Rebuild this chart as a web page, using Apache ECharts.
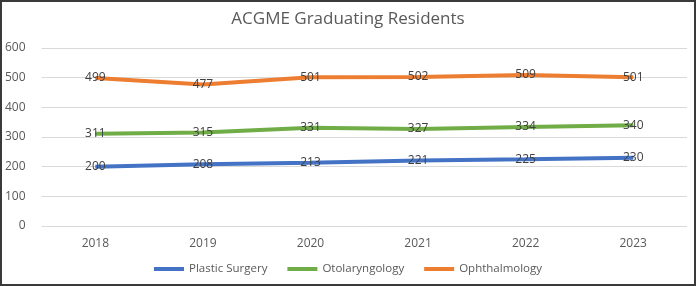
<!DOCTYPE html>
<html>
<head>
<meta charset="utf-8">
<script src="https://cdn.jsdelivr.net/npm/echarts@6/dist/echarts.min.js"></script>
<style>
  html, body { margin: 0; padding: 0; background: #fff; }
  #chart {
    width: 696px;
    height: 286px;
    box-sizing: border-box;
    border: 2px solid #3a3a3a;
  }
</style>
</head>
<body>
<div id="chart"></div>
<script>
// chart data
const years = ['2018', '2019', '2020', '2021', '2022', '2023']
const plasticSurgery = [200, 208, 213, 221, 225, 230]
const otolaryngology = [311, 315, 331, 327, 334, 340]
const ophthalmology = [499, 477, 501, 502, 509, 501]

const chart = echarts.init(document.getElementById('chart'))

const makeSeries = (name, data, color) => ({
  name: name,
  type: 'line',
  data: data,
  symbol: 'circle',
  symbolSize: 1,
  lineStyle: { width: 4, color: color },
  itemStyle: { color: color },
  label: {
    show: true,
    position: 'inside',
    color: '#404040',
    fontSize: 12,
    fontFamily: 'Open Sans'
  },
  emphasis: { disabled: true }
})

chart.setOption({
  animation: false,
  textStyle: { fontFamily: 'Open Sans' },
  title: {
    text: 'ACGME Graduating Residents',
    left: 'center',
    top: 4,
    textStyle: { fontSize: 17, fontWeight: 'normal', color: '#595959' }
  },
  legend: {
    bottom: 4,
    itemWidth: 30,
    itemHeight: 4,
    itemGap: 20,
    icon: 'rect',
    textStyle: { fontSize: 11.5, color: '#595959' },
    data: ['Plastic Surgery', 'Otolaryngology', 'Ophthalmology']
  },
  grid: { left: 37, right: 7, top: 46, bottom: 58 },
  xAxis: {
    type: 'category',
    data: years,
    axisLine: { show: false },
    axisTick: { show: false },
    axisLabel: { color: '#595959', fontSize: 12, margin: 12 }
  },
  yAxis: {
    type: 'value',
    min: 0,
    max: 600,
    interval: 100,
    axisLabel: { color: '#595959', fontSize: 12, margin: 16 },
    splitLine: { lineStyle: { color: '#d9d9d9' } }
  },
  series: [
    makeSeries('Plastic Surgery', plasticSurgery, '#4472c4'),
    makeSeries('Otolaryngology', otolaryngology, '#70ad47'),
    makeSeries('Ophthalmology', ophthalmology, '#ed7d31')
  ]
})
</script>
</body>
</html>
